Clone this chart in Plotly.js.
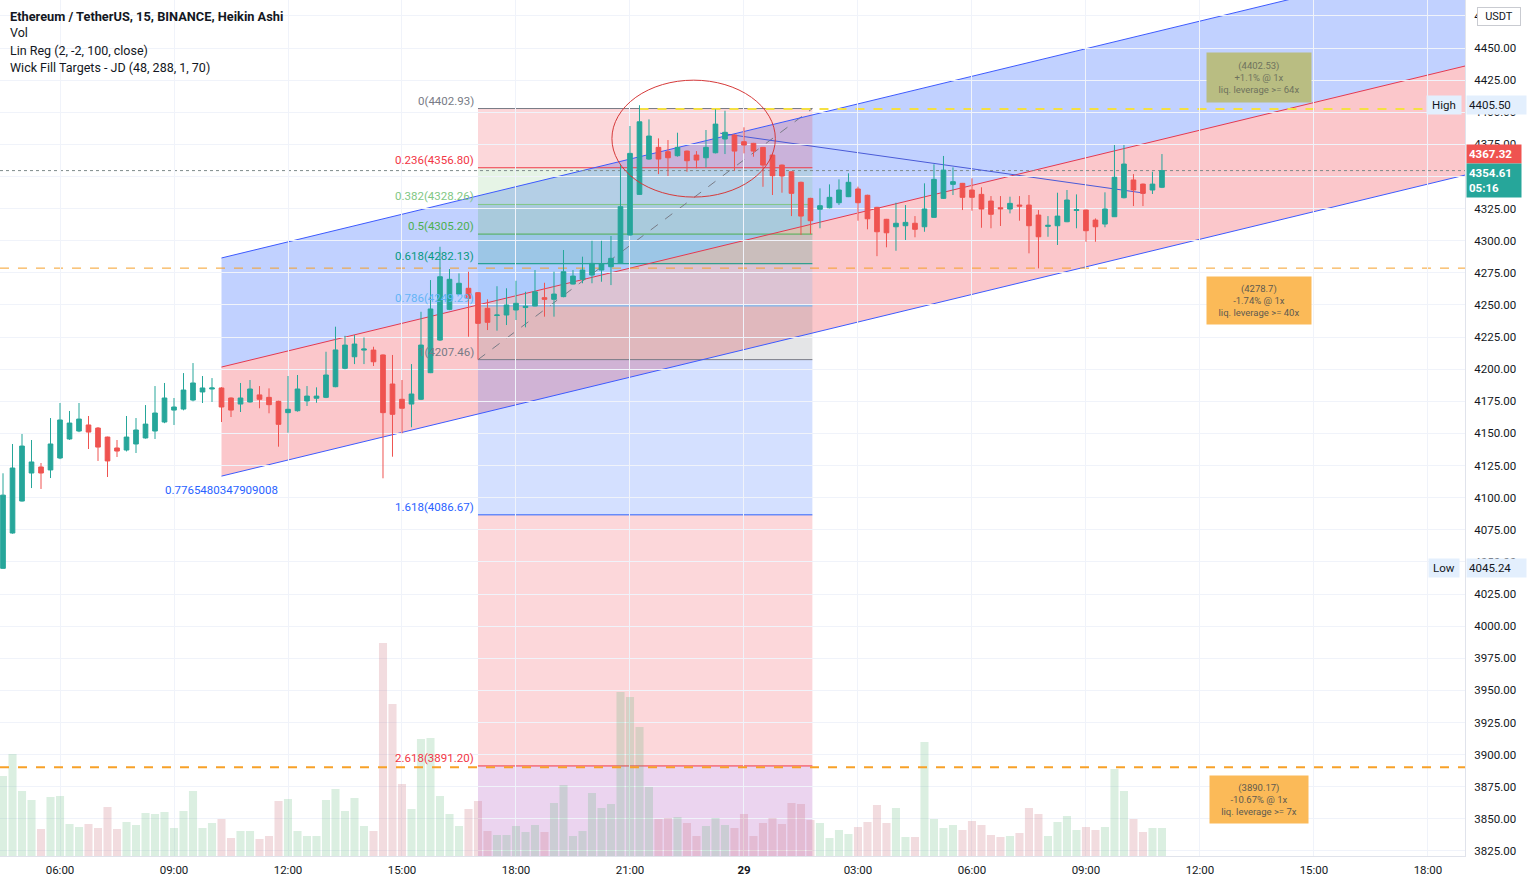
<!DOCTYPE html>
<html><head><meta charset="utf-8">
<script src="https://cdn.plot.ly/plotly-3.0.1.min.js"></script>
<style>html,body{margin:0;padding:0;background:#fff;}#chart{width:1527px;height:885px;}</style>
</head><body><div id="chart"></div>
<script>
// ---------- DATA (ETH/USDT 15m Heikin Ashi, BINANCE) ----------
const firstBar = '2021-10-28 04:30';
const haOpen = [4045.0,4072.5,4097.4,4119.2,4123.9,4121.6,4130.9,4145.7,4151.9,4156.6,4154.2,4147.2,4138.7,4137.1,4141.8,4146.5,4151.9,4158.9,4168.2,4169.0,
4176.0,4182.3,4184.6,4185.4,4177.6,4172.9,4174.5,4180.0,4178.1,4175.0,4166.2,4167.7,4175.3,4177.4,4178.1,4186.4,4200.7,4209.7,4214.9,4214.9,
4211.1,4188.5,4176.6,4172.9,4176.6,4197.3,4222.7,4246.6,4258.5,4263.0,4259.6,4247.4,4241.8,4242.2,4246.1,4248.0,4249.2,4255.7,4254.4,4256.5,
4266.3,4270.0,4273.3,4277.2,4279.8,4282.4,4304.5,4336.1,4363.6,4372.7,4369.3,4366.2,4369.8,4366.7,4364.6,4368.5,4379.2,4382.3,4377.1,4375.8,
4372.7,4366.7,4358.9,4353.7,4345.5,4333.0,4324.5,4325.7,4329.6,4334.3,4340.3,4335.4,4326.0,4316.7,4310.9,4311.7,4313.6,4310.9,4318.2,4333.0,
4343.9,4344.7,4339.5,4336.1,4330.9,4325.7,4324.7,4327.8,4327.8,4320.0,4311.2,4311.7,4314.8,4323.6,4323.9,4316.1,4313.0,4318.7,4333.5,4347.3,
4344.1,4339.5,4341.6];
const haHigh = [4119.0,4141.8,4149.6,4144.9,4127.0,4162.0,4173.7,4167.5,4173.7,4163.6,4155.0,4147.5,4144.9,4163.6,4162.0,4172.1,4186.9,4189.3,4177.6,4197.0,
4204.8,4194.7,4193.1,4186.0,4178.0,4189.3,4191.6,4186.9,4185.1,4175.5,4194.7,4195.5,4186.9,4185.9,4213.6,4233.1,4226.0,4226.6,4224.7,4217.5,
4211.5,4211.1,4191.6,4204.0,4244.7,4269.4,4295.3,4278.0,4274.6,4275.9,4260.0,4254.4,4264.6,4263.0,4268.9,4260.3,4277.2,4267.3,4275.9,4292.8,
4277.2,4287.6,4300.0,4300.0,4303.7,4359.7,4389.3,4405.5,4394.5,4379.7,4378.4,4384.1,4370.2,4369.8,4386.2,4402.3,4401.2,4382.8,4388.3,4376.2,
4373.0,4367.0,4359.3,4354.0,4346.0,4333.4,4340.8,4343.9,4347.8,4352.5,4342.1,4335.8,4326.4,4317.0,4329.6,4327.8,4319.2,4344.7,4359.5,4366.0,
4357.1,4345.0,4348.6,4341.6,4334.8,4334.8,4334.3,4334.8,4335.6,4323.9,4319.2,4337.4,4339.5,4336.1,4324.3,4317.4,4337.7,4374.5,4374.5,4351.9,
4344.5,4353.7,4367.5];
const haLow = [4045.2,4072.0,4097.0,4107.5,4106.8,4115.3,4130.0,4145.0,4151.0,4137.9,4128.6,4116.1,4131.7,4136.0,4134.8,4146.0,4145.7,4158.0,4156.6,4168.0,
4175.0,4173.7,4174.5,4158.9,4162.8,4166.7,4174.0,4169.6,4165.7,4139.7,4150.6,4167.0,4171.4,4173.9,4177.5,4186.0,4200.0,4204.0,4204.0,4202.5,
4115.1,4131.9,4150.1,4154.8,4176.0,4197.0,4222.0,4246.0,4258.0,4225.3,4207.5,4230.5,4230.0,4234.4,4238.3,4232.6,4249.0,4240.9,4240.9,4256.0,
4266.0,4266.9,4266.9,4268.1,4265.5,4282.0,4304.0,4336.0,4363.0,4351.9,4350.4,4365.5,4353.7,4356.4,4357.1,4368.0,4367.5,4354.5,4368.0,4365.4,
4342.0,4335.6,4337.4,4319.2,4304.5,4305.2,4309.7,4325.2,4327.8,4334.0,4315.6,4308.9,4288.0,4294.9,4292.2,4300.6,4302.7,4307.0,4318.0,4332.5,
4335.6,4323.9,4323.4,4310.1,4309.7,4311.5,4321.3,4315.6,4290.2,4278.5,4303.1,4296.7,4314.5,4309.7,4299.2,4299.2,4310.5,4318.5,4333.0,4327.0,
4327.0,4336.4,4341.0];
const haClose = [4102.0,4123.1,4140.2,4127.8,4119.2,4141.8,4160.5,4158.1,4161.2,4151.1,4139.4,4128.6,4136.3,4147.2,4152.7,4157.3,4165.9,4177.6,4170.6,4183.8,
4189.3,4185.4,4185.4,4170.6,4168.2,4177.6,4184.6,4176.6,4172.4,4157.1,4168.8,4184.6,4179.1,4179.1,4195.5,4215.0,4218.8,4219.6,4215.7,4205.8,
4166.2,4164.9,4169.6,4180.7,4218.8,4246.9,4272.0,4270.0,4266.9,4255.2,4235.7,4236.5,4242.2,4250.0,4251.3,4249.0,4260.3,4254.4,4258.5,4275.9,
4272.5,4277.2,4282.4,4281.9,4286.3,4326.5,4368.0,4392.6,4381.5,4363.6,4364.6,4372.7,4362.3,4362.8,4372.7,4390.8,4384.4,4369.8,4374.5,4369.8,
4358.9,4350.6,4350.4,4336.9,4319.2,4315.6,4327.3,4333.8,4339.5,4345.5,4329.6,4317.1,4307.0,4306.2,4313.6,4314.3,4308.9,4324.7,4347.8,4355.0,
4346.0,4333.8,4333.8,4324.7,4320.6,4324.9,4329.1,4327.0,4311.7,4303.1,4312.0,4319.2,4331.7,4324.2,4307.8,4310.9,4324.7,4349.4,4359.7,4339.5,
4336.9,4344.1,4354.6];
const volume = [80,102,65,56,27,59,60,32,29,32,28,49,27,34,31,43,42,44,28,45,
65,28,33,37,18,25,25,17,20,55,57,25,20,20,56,67,45,58,30,25,
213,152,72,47,117,118,60,42,30,47,55,25,21,21,30,24,31,24,53,71,
20,25,63,48,52,164,159,129,69,37,38,39,33,20,30,38,31,28,42,20,
33,38,32,53,52,36,33,18,26,22,29,34,51,33,48,19,19,114,37,28,
31,26,35,31,21,19,20,23,48,42,20,34,40,26,29,26,29,87,65,37,
24,28,28];

// x-axis ticks
const xTickTimes = ['2021-10-28 06:00','2021-10-28 09:00','2021-10-28 12:00','2021-10-28 15:00','2021-10-28 18:00','2021-10-28 21:00',
 '2021-10-29 00:00','2021-10-29 03:00','2021-10-29 06:00','2021-10-29 09:00','2021-10-29 12:00','2021-10-29 15:00','2021-10-29 18:00'];
const xTickLabels = ['06:00','09:00','12:00','15:00','18:00','21:00','<b>29</b>','03:00','06:00','09:00','12:00','15:00','18:00'];
// y-axis ticks (4350.00 sits fully under the last-price tag)
const yTickValues = [3825,3850,3875,3900,3925,3950,3975,4000,4025,4050,4075,4100,4125,4150,4175,4200,4225,4250,4275,4300,4325,4350,4375,4400,4425,4450,4475];
const yTickLabels = ['3825.00','3850.00','3875.00','3900.00','3925.00','3950.00','3975.00','4000.00','4025.00','4050.00','4075.00','4100.00','4125.00','4150.00','4175.00','4200.00','4225.00','4250.00','4275.00','4300.00','4325.00','','4375.00','4400.00','4425.00','4450.00','4475.00'];

// Linear regression channel (Lin Reg 2,-2,100,close)
const linRegStartBar = 23;
const linRegMidStart = 4201.7;
const linRegSlopePerBar = 1.79;
const linRegDev = 84.9;
const linRegLabel = '0.7765480347909008';

// Fibonacci retracement
const fibStartBar = 50, fibEndBar = 85.2;
const fibLow = 4207.4642, fibHigh = 4402.931;
const fibLevels = [0, 0.236, 0.382, 0.5, 0.618, 0.786, 1, 1.618, 2.618, 3.618];
const fibLabels = ['0','0.236','0.382','0.5','0.618','0.786','1','1.618','2.618','3.618'];
const fibColors = ['#787b86','#f23645','#81c784','#4caf50','#089981','#64b5f6','#787b86','#2962ff','#f23645','#9c27b0'];

// Wick fill targets
const targetPrices = [4402.53, 4278.7, 3890.17];
const targetTexts = ['(4402.53)<br>+1.1% @ 1x<br>liq. leverage >= 64x','(4278.7)<br>-1.74% @ 1x<br>liq. leverage >= 40x','(3890.17)<br>-10.67% @ 1x<br>liq. leverage >= 7x'];
const targetLabelBar = 132.2;

// Drawn trend line and ellipse
const trendBars = [75.5, 120.2], trendPrices = [4383.7, 4337.0];
const ellipseBars = [64.1, 81.3], ellipsePrices = [4334, 4425];

// Price labels
const dayHigh = 4405.50, dayLow = 4045.24, lastPrice = 4354.61, redPrice = 4367.32, countdown = '05:16';

// view window (bar index units) and price window
const viewBars = [-0.316, 153.9];
const priceRange = [3821.1, 4487.4];
const volRange = [0, 856];

// ---------- helpers ----------
const T0 = Date.parse(firstBar.replace(' ','T') + ':00Z');
const BAR = 15*60*1000;
function ts(i){const d=new Date(T0+Math.round(i*BAR));const p=n=>String(n).padStart(2,'0');
 return d.getUTCFullYear()+'-'+p(d.getUTCMonth()+1)+'-'+p(d.getUTCDate())+' '+p(d.getUTCHours())+':'+p(d.getUTCMinutes())+':'+p(d.getUTCSeconds());}
const pt = i => ts(i).replace(' ','_');
const times = haOpen.map((_,i)=>ts(i));
const up = haClose.map((c,i)=>c>=haOpen[i]);

const GREEN='#26a69a', RED='#ef5350';

const traces = [
 {type:'candlestick', x:times, open:haOpen, high:haHigh, low:haLow, close:haClose, xaxis:'x', yaxis:'y',
  increasing:{line:{color:GREEN,width:1},fillcolor:GREEN}, decreasing:{line:{color:RED,width:1},fillcolor:RED},
  whiskerwidth:0, hoverinfo:'skip', showlegend:false},
 {type:'bar', x:times, y:volume, xaxis:'x', yaxis:'y2',
  marker:{color:up.map(u=>u?'rgba(90,180,120,0.22)':'rgba(200,110,120,0.24)'), line:{width:0}}, hoverinfo:'skip', showlegend:false}
];

const shapes = [];
// Regression channel
const endBar = viewBars[1];
const mid0 = linRegMidStart, mid1 = linRegMidStart + linRegSlopePerBar*(endBar-linRegStartBar);
const bandPath = (a0,a1,b0,b1)=>`M${pt(linRegStartBar)},${a0} L${pt(endBar)},${a1} L${pt(endBar)},${b1} L${pt(linRegStartBar)},${b0} Z`;
shapes.push({type:'path', xref:'x', yref:'y', layer:'below', path:bandPath(mid0-linRegDev, mid1-linRegDev, mid0, mid1), fillcolor:'rgba(242,54,69,0.28)', line:{width:0}});
shapes.push({type:'path', xref:'x', yref:'y', layer:'below', path:bandPath(mid0, mid1, mid0+linRegDev, mid1+linRegDev), fillcolor:'rgba(41,98,255,0.29)', line:{width:0}});
// Fib bands
const fibPrice = l => fibHigh - l*(fibHigh-fibLow);
const hex2rgba=(h,a)=>{const n=parseInt(h.slice(1),16);return `rgba(${n>>16},${(n>>8)&255},${n&255},${a})`;};
for(let k=0;k<fibLevels.length-1;k++){
 shapes.push({type:'rect', xref:'x', yref:'y', layer:'below', x0:ts(fibStartBar), x1:ts(fibEndBar), y0:fibPrice(fibLevels[k]), y1:fibPrice(fibLevels[k+1]),
  fillcolor:hex2rgba(fibColors[k+1],0.2), line:{width:0}});
}
for(let k=0;k<fibLevels.length;k++){
 shapes.push({type:'line', xref:'x', yref:'y', layer:'below', x0:ts(fibStartBar), x1:ts(fibEndBar), y0:fibPrice(fibLevels[k]), y1:fibPrice(fibLevels[k]), line:{color:fibColors[k],width:1}});
}
shapes.push({type:'line', xref:'x', yref:'y', layer:'below', x0:ts(fibStartBar), x1:ts(fibEndBar), y0:fibLow, y1:fibHigh, line:{color:'#787b86',width:1,dash:'dash'}});
// Channel lines
const chLine=(off,color)=>({type:'line', xref:'x', yref:'y', layer:'below', x0:ts(linRegStartBar), x1:ts(endBar), y0:mid0+off, y1:mid1+off, line:{color:color,width:1}});
shapes.push(chLine(linRegDev,'#3d5afe'), chLine(0,'#e53950'), chLine(-linRegDev,'#3d5afe'));
// Horizontal lines
shapes.push({type:'line', xref:'x', yref:'y', layer:'below', x0:ts(viewBars[0]), x1:ts(viewBars[1]), y0:lastPrice, y1:lastPrice, line:{color:'#7d8a8a',width:1,dash:'dot'}});
shapes.push({type:'line', xref:'x', yref:'y', layer:'below', x0:ts(viewBars[0]), x1:ts(viewBars[1]), y0:targetPrices[1], y1:targetPrices[1], line:{color:'#f59f2a',width:1,dash:'dash'}});
shapes.push({type:'line', xref:'x', yref:'y', layer:'below', x0:ts(67), x1:ts(viewBars[1]), y0:targetPrices[0], y1:targetPrices[0], line:{color:'#f5e042',width:2,dash:'dash'}});
shapes.push({type:'line', xref:'x', yref:'y', layer:'above', x0:ts(viewBars[0]), x1:ts(viewBars[1]), y0:targetPrices[2], y1:targetPrices[2], line:{color:'#f7a128',width:2,dash:'dash'}});
// Trend line & ellipse
shapes.push({type:'line', xref:'x', yref:'y', layer:'below', x0:ts(trendBars[0]), x1:ts(trendBars[1]), y0:trendPrices[0], y1:trendPrices[1], line:{color:'#4a5bd8',width:1}});
shapes.push({type:'circle', xref:'x', yref:'y', layer:'above', x0:ts(ellipseBars[0]), x1:ts(ellipseBars[1]), y0:ellipsePrices[0], y1:ellipsePrices[1], line:{color:'#d63a3a',width:1}});

const annotations = [];
const FONT = 'Roboto, "Noto Sans", sans-serif';
// legend text
const legendLines = ['<b>Ethereum / TetherUS, 15, BINANCE, Heikin Ashi</b>','Vol','Lin Reg (2, -2, 100, close)','Wick Fill Targets - JD (48, 288, 1, 70)'];
legendLines.forEach((t,k)=>annotations.push({xref:'paper', yref:'paper', x:8/1465, y:1-(16+k*17)/856, xanchor:'left', yanchor:'middle', text:t, showarrow:false, font:{family:FONT,size:k===0?12.8:12.5,color:'#131722'}}));
// fib labels
for(let k=0;k<fibLevels.length-1;k++){
 annotations.push({xref:'x', yref:'y', x:ts(fibStartBar), y:fibPrice(fibLevels[k]), xanchor:'right', yanchor:'bottom', xshift:-2, yshift:-1,
  text:`${fibLabels[k]}(${fibPrice(fibLevels[k]).toFixed(2)})`, showarrow:false, font:{family:FONT,size:11.5,color:fibColors[k]}});
}
annotations.push({xref:'x', yref:'y', x:ts(linRegStartBar), y:mid0-linRegDev, xanchor:'center', yanchor:'top', yshift:-5, text:linRegLabel, showarrow:false, font:{family:FONT,size:11.5,color:'#2962ff'}});
// wick fill target boxes
annotations.push({xref:'x', yref:'y', x:ts(targetLabelBar), y:targetPrices[0], yanchor:'bottom', yshift:6, text:targetTexts[0], showarrow:false, width:96, height:41, borderpad:4,
 bgcolor:'#b9bd82', font:{family:FONT,size:9.5,color:'#6f735e'}});
annotations.push({xref:'x', yref:'y', x:ts(targetLabelBar), y:targetPrices[1], yanchor:'top', yshift:-8, text:targetTexts[1], showarrow:false, width:96, height:39, borderpad:4,
 bgcolor:'#fbba58', font:{family:FONT,size:9.5,color:'#5f5a50'}});
annotations.push({xref:'x', yref:'y', x:ts(targetLabelBar), y:targetPrices[2], yanchor:'top', yshift:-8, text:targetTexts[2], showarrow:false, width:90, height:39, borderpad:4,
 bgcolor:'#fbba58', font:{family:FONT,size:9.5,color:'#5f5a50'}});
// right-side price labels
const rx = 1466/1465;
annotations.push({xref:'paper', yref:'y', x:1462/1465, y:dayHigh, xanchor:'right', text:'High', showarrow:false, bgcolor:'#e3effd', borderpad:2, width:30, font:{family:FONT,size:11.5,color:'#131722'}});
annotations.push({xref:'paper', yref:'y', x:rx, y:dayHigh, xanchor:'left', text:dayHigh.toFixed(2), showarrow:false, bgcolor:'#e3effd', width:55, align:'left', borderpad:2, font:{family:FONT,size:11.5,color:'#131722'}});
annotations.push({xref:'paper', yref:'y', x:1460/1465, y:dayLow, xanchor:'right', text:'Low', showarrow:false, bgcolor:'#e3effd', borderpad:2, width:26, font:{family:FONT,size:11.5,color:'#131722'}});
annotations.push({xref:'paper', yref:'y', x:rx, y:dayLow, xanchor:'left', text:dayLow.toFixed(2), showarrow:false, bgcolor:'#e3effd', width:55, align:'left', borderpad:2, font:{family:FONT,size:11.5,color:'#131722'}});
annotations.push({xref:'paper', yref:'y', x:rx, y:redPrice, xanchor:'left', text:'<b>'+redPrice.toFixed(2)+'</b>', showarrow:false, bgcolor:'#ef5350', width:50, align:'left', borderpad:2, font:{family:FONT,size:11.5,color:'#ffffff'}});
annotations.push({xref:'paper', yref:'y', x:rx, y:lastPrice, xanchor:'left', yanchor:'top', yshift:8, text:'<b>'+lastPrice.toFixed(2)+'<br>'+countdown+'</b>', showarrow:false, bgcolor:'#26a69a', width:50, align:'left', borderpad:2, font:{family:FONT,size:11.5,color:'#ffffff'}});
annotations.push({xref:'paper', yref:'paper', x:1477/1465, y:1-16/856, xanchor:'left', yanchor:'middle', text:'USDT', showarrow:false, bgcolor:'#ffffff', bordercolor:'#c9cbd1', borderwidth:1, borderpad:2, width:38, font:{family:FONT,size:11,color:'#131722'}});

const layout = {
 width:1527, height:885, margin:{l:0,r:62,t:0,b:29,pad:0},
 paper_bgcolor:'#ffffff', plot_bgcolor:'#ffffff', showlegend:false, dragmode:false,
 font:{family:FONT,size:11.5,color:'#131722'},
 bargap:0.15,
 xaxis:{type:'date', range:[ts(viewBars[0]), ts(viewBars[1])], tickvals:xTickTimes, ticktext:xTickLabels, showgrid:true, gridcolor:'#f0f3fa',
  zeroline:false, showline:true, linecolor:'#e0e3eb', ticks:'', ticklabelstandoff:3, rangeslider:{visible:false}, fixedrange:true, tickfont:{family:FONT,size:11.5,color:'#131722'}},
 yaxis:{side:'right', range:priceRange, tickvals:yTickValues, ticktext:yTickLabels, showgrid:true, gridcolor:'#f0f3fa', zeroline:false,
  showline:true, linecolor:'#e0e3eb', ticks:'', ticklabelstandoff:6, fixedrange:true, tickfont:{family:FONT,size:11.5,color:'#131722'}},
 yaxis2:{overlaying:'y', range:volRange, visible:false, fixedrange:true, showgrid:false, zeroline:false},
 shapes:shapes, annotations:annotations
};
Plotly.newPlot('chart', traces, layout, {displayModeBar:false, staticPlot:true});
</script></body></html>
